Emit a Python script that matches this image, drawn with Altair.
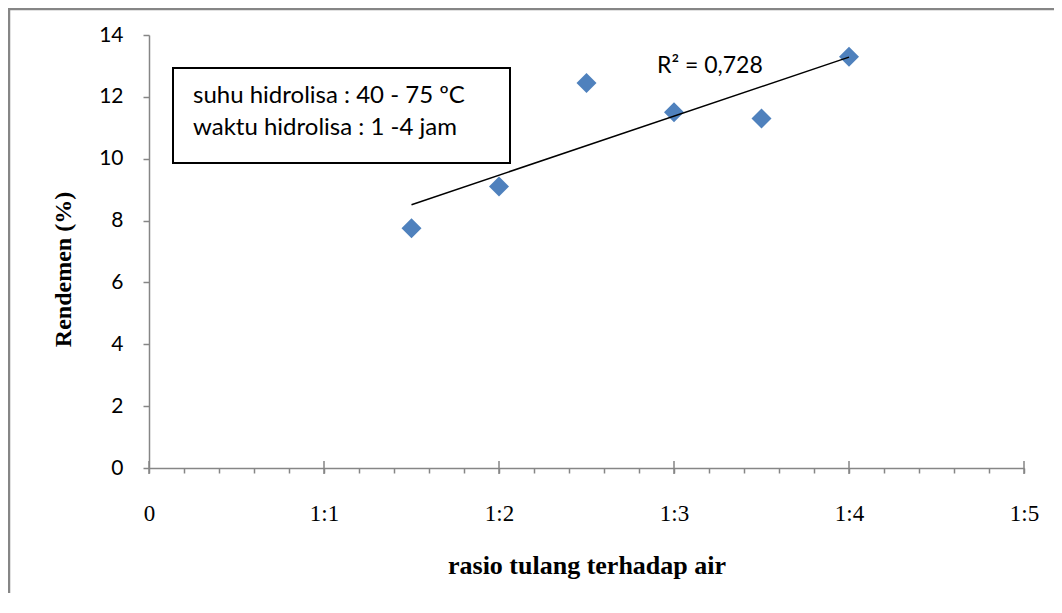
import altair as alt
import pandas as pd

# ---- data ----
ratio_pos = [1.5, 2.0, 2.5, 3.0, 3.5, 4.0]
rendemen = [7.75, 9.1, 12.45, 11.5, 11.3, 13.3]
x_major = [0, 1, 2, 3, 4, 5]
x_minor = [0, 0.2, 0.4, 0.6, 0.8, 1, 1.2, 1.4, 1.6, 1.8, 2, 2.2, 2.4, 2.6, 2.8,
           3, 3.2, 3.4, 3.6, 3.8, 4, 4.2, 4.4, 4.6, 4.8, 5]
y_ticks = [0, 2, 4, 6, 8, 10, 12, 14]
box_lines = ["suhu hidrolisa : 40 - 75 \u00baC", "waktu hidrolisa : 1 -4 jam"]
r2_label = "R\u00b2 = 0,728"
x_title = "rasio tulang terhadap air"
y_title = "Rendemen (%)"

W, H = 875, 433
GRAY = "#868686"
SANS = "Lato"
SERIF = "Liberation Serif"

df = pd.DataFrame({"x": ratio_pos, "y": rendemen})
ticks_df = pd.DataFrame({"x": x_major})

X = alt.X(
    "x:Q",
    scale=alt.Scale(domain=[0, 5], nice=False, zero=False),
    axis=alt.Axis(
        values=x_minor,
        labelExpr="abs(datum.value - round(datum.value)) < 0.01 ? (datum.value == 0 ? '0' : '1:' + round(datum.value)) : ''",
        tickSize=5, tickWidth=1.5, tickColor=GRAY,
        domainColor=GRAY, domainWidth=1.5,
        labelFont=SERIF, labelFontSize=23, labelColor="black", labelPadding=29,
        labelOverlap=False, labelFlush=False,
        grid=False,
        title=x_title, titleFont=SERIF, titleFontSize=26, titleFontWeight="bold",
        titleColor="black", titleY=105, titleBaseline="alphabetic",
    ),
)
Y = alt.Y(
    "y:Q",
    scale=alt.Scale(domain=[0, 14], nice=False),
    axis=alt.Axis(
        values=y_ticks,
        tickSize=6, tickWidth=1.5, tickColor=GRAY,
        domainColor=GRAY, domainWidth=1.5,
        labelFont=SANS, labelFontSize=21, labelColor="black", labelPadding=20,
        grid=False,
        title=y_title, titleFont=SERIF, titleFontSize=24, titleFontWeight="bold",
        titleColor="black", titleAngle=270, titleX=-86, titleY=234,
        titleBaseline="middle", titleAlign="center",
    ),
)

one = pd.DataFrame({"t": [""]})

border_left = alt.Chart(one).mark_rule(color=GRAY, strokeWidth=2.5).encode(
    x=alt.value(-140), y=alt.value(-26), y2=alt.value(H + 125)
)
border_top = alt.Chart(one).mark_rule(color=GRAY, strokeWidth=2.5).encode(
    x=alt.value(-141), x2=alt.value(W + 30), y=alt.value(-26)
)

box = alt.Chart(one).mark_rect(fill="white", stroke="black", strokeWidth=2).encode(
    x=alt.value(24), x2=alt.value(361), y=alt.value(33), y2=alt.value(128)
)
line1 = alt.Chart(pd.DataFrame({"t": [box_lines[0]]})).mark_text(
    font=SANS, fontSize=24, color="black", align="left", baseline="alphabetic"
).encode(x=alt.value(44), y=alt.value(68), text="t:N")
line2 = alt.Chart(pd.DataFrame({"t": [box_lines[1]]})).mark_text(
    font=SANS, fontSize=24, color="black", align="left", baseline="alphabetic"
).encode(x=alt.value(44), y=alt.value(100), text="t:N")
r2 = alt.Chart(pd.DataFrame({"t": [r2_label]})).mark_text(
    font=SANS, fontSize=23, color="black", align="left", baseline="alphabetic"
).encode(x=alt.value(508), y=alt.value(38), text="t:N")

points = alt.Chart(df).mark_point(
    shape="diamond", filled=True, size=400, color="#4F81BD", opacity=1
).encode(x=X, y=Y)

trend = alt.Chart(df).transform_regression("x", "y").mark_line(
    color="black", strokeWidth=1.5
).encode(x=X, y=Y)

major = alt.Chart(ticks_df).mark_rule(color=GRAY, strokeWidth=1.5).encode(
    x=X, y=alt.value(H - 7), y2=alt.value(H + 6)
)

chart = alt.layer(
    border_left, border_top, major, box, points, trend, line1, line2, r2
).properties(
    width=W, height=H,
    padding={"left": 141, "top": 27, "right": 30, "bottom": 130},
    autosize=alt.AutoSizeParams(type="none"),
).configure_view(stroke=None)

chart.save("out.html", embed_options={"renderer": "svg", "actions": False})
